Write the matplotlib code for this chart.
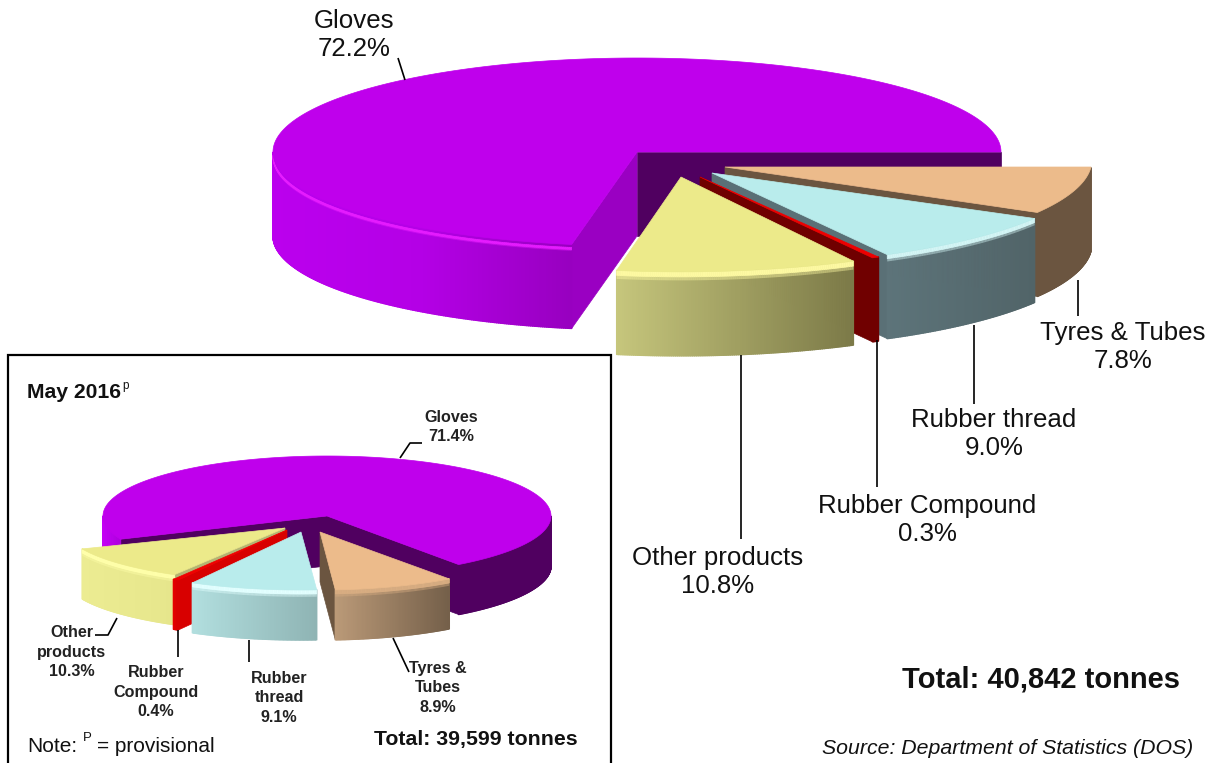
import numpy as np
import matplotlib
matplotlib.use("Agg")
import matplotlib.pyplot as plt
from matplotlib.collections import PolyCollection
from matplotlib.colors import LinearSegmentedColormap
from matplotlib.patches import Polygon

plt.rcParams['font.family'] = ['Liberation Sans', 'DejaVu Sans']

# Export shares, percent
categories = ["Gloves", "Other products", "Rubber Compound", "Rubber thread", "Tyres & Tubes"]
june_share = [72.2, 10.8, 0.3, 9.0, 7.8]
may_share = [71.4, 10.3, 0.4, 9.1, 8.9]
june_total = "Total: 40,842 tonnes"
may_total = "Total: 39,599 tonnes"

# Slice colouring: top, cut face, wall gradient stops, rim highlight
MAIN_STYLE = {
    "Gloves": dict(top="#bf00ec", face_start="#500060", face_end="#9a00c2",
                   wall=["#bb00ee", "#b400e6", "#9800c0"], rim="#e61cff"),
    "Other products": dict(top="#ecea8a", face_start="#8c8a50", face_end="#8c8a50",
                           wall=["#c6c67c", "#7c7a48"], rim="#fdf9a2"),
    "Rubber Compound": dict(top="#ee0000", face_start="#700000", face_end="#700000",
                            wall=["#700000", "#700000"], rim=None),
    "Rubber thread": dict(top="#b9ecec", face_start="#5a7076", face_end="#5a7076",
                          wall=["#5d747a", "#516468"], rim="#d4f6f6"),
    "Tyres & Tubes": dict(top="#ecbb8b", face_start="#6b5540", face_end="#6b5540",
                          wall=["#6b5540", "#6b5540"], rim=None),
}
INSET_STYLE = {
    "Gloves": dict(top="#bf00ec", face_start="#500060", face_end="#500060",
                   wall=[(0, "#c400f4"), (0.035, "#b000e0"), (0.09, "#500060"), (1, "#500060")], rim=None),
    "Other products": dict(top="#ecea8a", face_start="#b4b472", face_end="#b4b472",
                           wall=["#ecec92", "#e6e68c"], rim="#ffffaa"),
    "Rubber Compound": dict(top="#f00000", face_start="#d80000", face_end="#d80000",
                            wall=["#e80000", "#d80000"], rim=None),
    "Rubber thread": dict(top="#b9ecec", face_start="#8fb4b4", face_end="#8fb4b4",
                          wall=["#b2dfdf", "#8fb4b4"], rim="#e2ffff"),
    "Tyres & Tubes": dict(top="#ecbb8b", face_start="#6b5540", face_end="#6b5540",
                          wall=["#bb9a78", "#75604a"], rim="#d8ad82"),
}


def project(apex, theta, rx, ry, persp):
    """Map a disc angle (degrees, counter-clockwise from the right) to the page."""
    t = np.radians(theta)
    u, v = np.cos(t), -np.sin(t)
    p = 1 - persp * v
    return apex[0] + rx * u * p, apex[1] + ry * v * p


def draw_slice(ax, apex, a0, a1, rx, ry, persp, depth, style, rim_gap=0, rim_h=4):
    thetas = np.linspace(a0, a1, max(int(abs(a1 - a0) * 3), 8))
    xs, ys = project(apex, thetas, rx, ry, persp)

    # Radial cut faces that turn towards the viewer
    for ang, x, y, col in ((a0, xs[0], ys[0], style["face_start"]),
                           (a1, xs[-1], ys[-1], style["face_end"])):
        c = np.cos(np.radians(ang))
        if (ang == a0 and c > 0) or (ang == a1 and c < 0):
            ax.add_patch(Polygon([apex, (x, y), (x, y + depth), (apex[0], apex[1] + depth)],
                                 closed=True, fc=col, ec=col, lw=0.5))

    # Outer wall, only where the rim faces front
    cmap = LinearSegmentedColormap.from_list("wall", style["wall"])
    front = np.sin(np.radians(thetas)) < 0
    wx = xs[front]
    if wx.size > 1:
        lo, hi = wx.min(), wx.max()
        quads, colours, rim_quads, glow_quads = [], [], [], []
        for i in range(len(thetas) - 1):
            if not (front[i] and front[i + 1]):
                continue
            x0, x1, y0, y1 = xs[i], xs[i + 1], ys[i], ys[i + 1]
            quads.append([(x0, y0), (x1, y1), (x1, y1 + depth), (x0, y0 + depth)])
            colours.append(cmap((0.5 * (x0 + x1) - lo) / max(hi - lo, 1)))
            top, mid, low = rim_gap, rim_gap + rim_h, rim_gap + rim_h * 1.7
            rim_quads.append([(x0, y0 + top), (x1, y1 + top), (x1, y1 + mid), (x0, y0 + mid)])
            glow_quads.append([(x0, y0 + mid), (x1, y1 + mid), (x1, y1 + low), (x0, y0 + low)])
        ax.add_collection(PolyCollection(quads, facecolors=colours, edgecolors=colours, linewidths=1.0))
        if style["rim"]:
            ax.add_collection(PolyCollection(glow_quads, facecolors=style["rim"], edgecolors=style["rim"],
                                             linewidths=0.0, alpha=0.45))
            ax.add_collection(PolyCollection(rim_quads, facecolors=style["rim"], edgecolors=style["rim"],
                                             linewidths=0.5))

    # Top surface
    pts = [apex] + list(zip(xs, ys))
    ax.add_patch(Polygon(pts, closed=True, fc=style["top"], ec=style["top"], lw=0.5))


def slice_angles(shares, start):
    arr = np.asarray(shares, dtype=float)
    sweep = arr / arr.sum() * 360
    edges = start + np.concatenate([[0], np.cumsum(sweep)])
    return {c: (edges[i], edges[i + 1]) for i, c in enumerate(categories)}


fig = plt.figure(figsize=(12.17, 7.63), dpi=100)
ax = fig.add_axes([0, 0, 1, 1])
ax.set_xlim(0, 1217)
ax.set_ylim(763, 0)
ax.axis("off")

# Current month pie: apex, horizontal radius, vertical radius, perspective
main_geom = {
    "Gloves": ((637, 152), 364, 94, 0.0),
    "Tyres & Tubes": ((725, 167), 366, 100, 0.07),
    "Rubber thread": ((712, 173), 378, 100, 0.07),
    "Rubber Compound": ((700, 177), 385, 98, 0.07),
    "Other products": ((681, 177), 385, 102, 0.07),
}
main_rim = {"Gloves": (3, 2.0), "Other products": (0, 5), "Rubber thread": (0, 4),
            "Rubber Compound": (0, 1), "Tyres & Tubes": (0, 1)}
for name in ["Gloves", "Tyres & Tubes", "Rubber thread", "Rubber Compound", "Other products"]:
    a0, a1 = slice_angles(june_share, 0)[name]
    apex, rx, ry, persp = main_geom[name]
    gap, h = main_rim[name]
    draw_slice(ax, apex, a0, a1, rx, ry, persp, 84, MAIN_STYLE[name], gap, h)

# Inset box, open along the page bottom
ax.plot([8, 8, 611, 611], [763, 355, 355, 763], color="black", lw=1.6,
        solid_joinstyle="miter", zorder=0)

# Previous month pie
may_geom = {
    "Gloves": ((327, 516), 224, 60),
    "Other products": ((285, 528), 220, 54),
    "Rubber Compound": ((287, 530), 226, 57),
    "Rubber thread": ((301, 532), 226, 58),
    "Tyres & Tubes": ((320, 532), 220, 58),
}
for name in ["Gloves", "Other products", "Rubber Compound", "Rubber thread", "Tyres & Tubes"]:
    a0, a1 = slice_angles(may_share, -54)[name]
    apex, rx, ry = may_geom[name]
    draw_slice(ax, apex, a0, a1, rx, ry, 0.0, 50, INSET_STYLE[name], 0, 4)

# Leader lines
leaders = [
    ([398, 405], [58, 80]), ([1078, 1078], [280, 316]), ([974, 974], [325, 404]),
    ([877, 877], [340, 487]), ([741, 741], [355, 539]),
    ([400, 410, 422], [458, 443, 443]), ([117, 108, 95], [618, 635, 635]),
    ([178, 178], [630, 657]), ([249, 249], [640, 662]), ([393, 409], [638, 672]),
]
for lx, ly in leaders:
    ax.plot(lx, ly, color="black", lw=1.2, solid_capstyle="butt")

# Labels: current month
main_label_pos = {"Gloves": (354, 35), "Tyres & Tubes": (1123, 347), "Rubber thread": (994, 434),
                  "Rubber Compound": (927, 520), "Other products": (718, 572)}
for name, share in zip(categories, june_share):
    x, y = main_label_pos[name]
    ax.text(x, y, f"{name}\n{share:.1f}%", ha="center", va="center", fontsize=18.6,
            linespacing=1.26, color="#111111")

# Labels: previous month
may_labels = {
    "Gloves": ("Gloves", 451, 427), "Other products": ("Other\nproducts", 72, 652),
    "Rubber Compound": ("Rubber\nCompound", 156, 692), "Rubber thread": ("Rubber\nthread", 279, 698),
    "Tyres & Tubes": ("Tyres &\nTubes", 438, 688),
}
for name, share in zip(categories, may_share):
    text, x, y = may_labels[name]
    ax.text(x, y, f"{text}\n{share:.1f}%", ha="center", va="center", fontsize=11.6,
            fontweight="bold", linespacing=1.4, color="#222222")

ax.text(27, 392, "May 2016", fontsize=15.2, fontweight="bold", va="center", color="#111111")
ax.text(122, 386, "p", fontsize=8.5, va="center", color="#111111")
ax.text(27, 747, "Note:", fontsize=15, va="center", color="#111111")
ax.text(83, 738, "P", fontsize=9.5, va="center", color="#111111")
ax.text(97, 747, "= provisional", fontsize=15, va="center", color="#111111")
ax.text(578, 740, may_total, fontsize=15.3, fontweight="bold", ha="right", va="center", color="#111111")
ax.text(1180, 679, june_total, fontsize=21, fontweight="bold", ha="right", va="center", color="#111111")
ax.text(1193, 748, "Source: Department of Statistics (DOS)", fontsize=15.3, style="italic",
        ha="right", va="center", color="#111111")

fig.savefig("out.png", dpi=100)
